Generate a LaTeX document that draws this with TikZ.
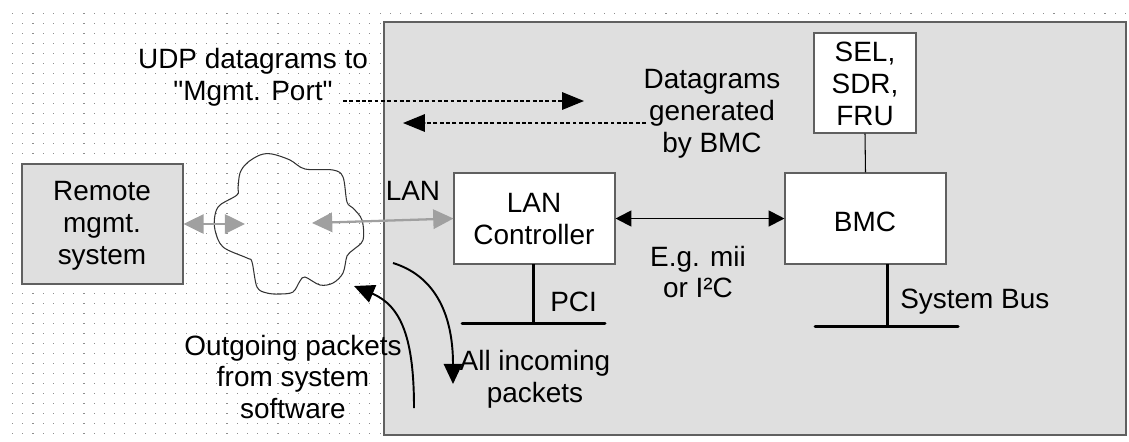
\documentclass[tikz,border=0pt]{standalone}
\usepackage{fontspec}
\setmainfont{Liberation Sans}
\newfontfamily\qfont{Liberation Sans}
\usetikzlibrary{arrows.meta}
\definecolor{boxgray}{HTML}{DFDFDF}
\definecolor{edgegray}{HTML}{606060}
\definecolor{lightarrow}{HTML}{A0A0A0}
\definecolor{dotc}{HTML}{8E8E8E}
\tikzset{
  lbl/.style={align=center, inner sep=0pt, font=\fontsize{15.9}{18.2}\selectfont},
  whitebox/.style={draw=edgegray, fill=white, line width=0.6pt, inner sep=0pt},
  graybox/.style={draw=edgegray, fill=boxgray, line width=0.6pt, inner sep=0pt},
  bus/.style={line width=1.7pt, black},
  link/.style={line width=0.6pt, black},
  blackdbl/.style={line width=1.1pt, black, {Triangle[length=9pt,width=9pt]}-{Triangle[length=9pt,width=9pt]}},
  graydbl/.style={line width=1.3pt, lightarrow, {Triangle[length=11.5pt,width=11pt]}-{Triangle[length=11.5pt,width=11pt]}},
  dasharrow/.style={line width=0.8pt, black, dash pattern=on 2.2pt off 1.4pt, -{Triangle[length=12.5pt,width=10pt]}},
  curvearrow/.style={line width=1.1pt, black, -{Triangle[length=11.5pt,width=10.5pt]}},
}
\begin{document}
\begin{tikzpicture}[x=0.02cm,y=-0.02cm]
\useasboundingbox (0,0) rectangle (1129,441);
% dotted grid
\foreach \i in {0,...,109}{
  \foreach \j in {0,...,42}{
    \fill[dotc] (12+\i*10.21,13+\j*10) rectangle +(1.1,1.1);
  }
}
% system box
\draw[draw=edgegray, fill=boxgray, line width=1pt] (384,22) rectangle (1126,435);
% boxes
\node[whitebox, minimum width=102*0.02cm, minimum height=100*0.02cm] (sel) at (865,83) {};
\node[lbl] at (865,84) {SEL,\\SDR,\\FRU};
\node[whitebox, minimum width=161*0.02cm, minimum height=91*0.02cm] (bmc) at (865.5,218.5) {};
\node[lbl] at (865,222) {BMC};
\node[whitebox, minimum width=161*0.02cm, minimum height=91*0.02cm] (lanc) at (534.5,218.5) {};
\node[lbl] at (534,219) {LAN\\Controller};
\node[graybox, minimum width=161*0.02cm, minimum height=120*0.02cm] (remote) at (102.5,224) {};
\node[lbl] at (102,226) {Remote\\mgmt.\\system};
% SEL - BMC
\draw[link] (sel.south) -- (bmc.north);
% buses
\coordinate (pcitop) at (533,264);
\coordinate (pcijoin) at (533,323);
\coordinate (pcil) at (462,323);
\coordinate (pcir) at (605,323);
\draw[bus] (pcitop) -- (pcijoin);
\draw[bus, line cap=round] (pcil) -- (pcir);
\node[lbl, anchor=west] (pci) at (550,302) {PCI};
\coordinate (sbtop) at (887,264);
\coordinate (sbjoin) at (887,326);
\coordinate (sbl) at (815,326);
\coordinate (sbr) at (958,326);
\draw[bus] (sbtop) -- (sbjoin);
\draw[bus, line cap=round] (sbl) -- (sbr);
\node[lbl, anchor=west] (sysbus) at (900,302) {System Bus};
% LAN ctrl <-> BMC
\draw[blackdbl] (lanc.east) -- (bmc.west);
\node[lbl] (mii) at (698,272) {E.g. mii\\or I²C};
% cloud
\draw[line width=0.6pt, black!80] plot[smooth cycle, tension=0.55] coordinates {
 (260,155) (272,154) (290,160) (305,169) (333,170) (343,177) (347,202)
 (353,208) (362,220) (363,240) (353,250) (347,256) (343,273) (333,283)
 (320,285) (305,277) (300,281) (293,292) (280,294) (267,293) (257,287)
 (252,262) (247,258) (223,247) (215,230) (215,215) (220,205) (237,195)
 (238,188) (240,173) (247,163)};
\coordinate (cloudin) at (245,224);
\coordinate (cloudout) at (312,223);
\draw[graydbl] (remote.east) -- (cloudin);
\draw[graydbl] (cloudout) -- (lanc.west);
\node[lbl] (lan) at (413,191) {LAN};
% dashed datagram arrows
\node[lbl] (udp) at (253,77) {UDP datagrams to\\{\qfont"}Mgmt. Port{\qfont"}};
\coordinate (udpend) at (584,101);
\draw[dasharrow] (343,101) -- (udpend);
\node[lbl] (dgbmc) at (712,114) {Datagrams\\generated\\by BMC};
\coordinate (dgend) at (403,123);
\draw[dasharrow] (646,123) -- (dgend);
% curved arrows
\coordinate (outstart) at (414,408);
\coordinate (outend) at (354,286);
\draw[curvearrow] (outstart) .. controls (414,340) and (402,306) .. (outend);
\node[lbl] (outgoing) at (293,377) {Outgoing packets\\from system\\software};
\coordinate (instart) at (393,263);
\coordinate (inend) at (453,384);
\draw[curvearrow] (instart) .. controls (432,275) and (453,310) .. (inend);
\node[lbl] (incoming) at (535,379) {All incoming\\packets};
\end{tikzpicture}
\end{document}
